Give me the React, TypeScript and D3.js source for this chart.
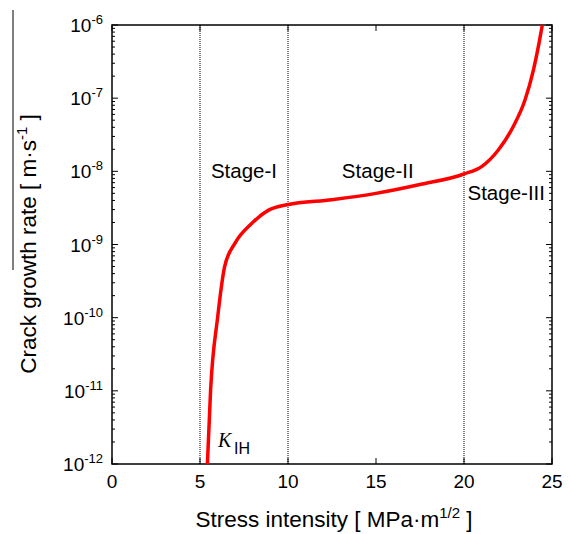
import React from 'react';
import * as d3 from 'd3';

// crack growth curve (stress intensity vs growth rate)
const stressK = [5.42, 5.6, 6.0, 6.4, 7.0, 7.95, 8.9, 9.95, 12.5, 15, 17.5, 20, 21.0, 21.95, 22.8, 23.47, 23.94, 24.26, 24.45];
const growthRate = [1e-12, 1e-11, 1e-10, 5e-10, 1.05e-9, 1.95e-9, 2.95e-9, 3.5e-9, 4.1e-9, 5.0e-9, 6.6e-9, 9.2e-9, 1.16e-8, 1.96e-8, 4.1e-8, 9.5e-8, 2.4e-7, 5.6e-7, 1e-6];

const stageBounds = [5, 10, 20];
const stageLabels = ['Stage-I', 'Stage-II', 'Stage-III'];
const stageLabelK = [7.5, 15.1, 22.4];
const stageLabelRate = [8.1e-9, 8.1e-9, 4.0e-9];

const xTicks = [0, 5, 10, 15, 20, 25];
const yExponents = [-6, -7, -8, -9, -10, -11, -12];

const font = 'Arial, "Liberation Sans", sans-serif';

export default function App() {
  const W = 570;
  const H = 534;
  const left = 112, right = 552, top = 25, bottom = 464;

  const x = d3.scaleLinear().domain([0, 25]).range([left, right]);
  const y = d3.scaleLog().domain([1e-12, 1e-6]).range([bottom, top]);

  const line = d3.line<number>()
    .x((_, i) => x(stressK[i]))
    .y((d) => y(d))
    .curve(d3.curveMonotoneX);

  // minor log ticks
  const minor: number[] = [];
  for (let e = -12; e < -6; e++) {
    for (let m = 2; m <= 9; m++) minor.push(m * Math.pow(10, e));
  }

  return (
    <svg width={W} height={H} style={{ position: 'absolute', left: 0, top: 0, background: '#fff' }}>
      {/* stray line at top left */}
      <line x1={13} x2={13} y1={10} y2={270} stroke="#000" strokeWidth={1} />

      {/* stage boundaries */}
      {stageBounds.map((k) => (
        <line key={k} x1={x(k)} x2={x(k)} y1={top} y2={bottom} stroke="#000" strokeWidth={1} strokeDasharray="1,1" />
      ))}

      {/* minor ticks */}
      {minor.map((v, i) => (
        <g key={'m' + i}>
          <line x1={left} x2={left + 3} y1={y(v)} y2={y(v)} stroke="#000" />
          <line x1={right} x2={right - 3} y1={y(v)} y2={y(v)} stroke="#000" />
        </g>
      ))}
      {/* major y ticks + labels */}
      {yExponents.map((e) => {
        const yy = y(Math.pow(10, e));
        return (
          <g key={'y' + e}>
            <line x1={left} x2={left + 6} y1={yy} y2={yy} stroke="#000" />
            <line x1={right} x2={right - 6} y1={yy} y2={yy} stroke="#000" />
            <text x={103} y={yy + 7} textAnchor="end" fontFamily={font} fontSize={19}>
              10<tspan dy={-8} fontSize={13}>{'-' + Math.abs(e)}</tspan>
            </text>
          </g>
        );
      })}
      {/* x ticks + labels */}
      {xTicks.map((t) => (
        <g key={'x' + t}>
          <line x1={x(t)} x2={x(t)} y1={bottom} y2={bottom - 6} stroke="#000" />
          <line x1={x(t)} x2={x(t)} y1={top} y2={top + 6} stroke="#000" />
          <text x={x(t)} y={488} textAnchor="middle" fontFamily={font} fontSize={19}>{t}</text>
        </g>
      ))}

      {/* frame */}
      <rect x={left} y={top} width={right - left} height={bottom - top} fill="none" stroke="#000" strokeWidth={1.5} />

      {/* curve */}
      <path d={line(growthRate) || ''} fill="none" stroke="#ff0000" strokeWidth={3.5} strokeLinejoin="round" />

      {/* stage labels */}
      {stageLabels.map((s, i) => (
        <text key={s} x={x(stageLabelK[i])} y={y(stageLabelRate[i])} textAnchor="middle" fontFamily={font} fontSize={20.5}>{s}</text>
      ))}

      {/* K_IH */}
      <text x={218} y={447} fontFamily='"Times New Roman", "Liberation Serif", serif' fontStyle="italic" fontSize={20}>K</text>
      <text x={234} y={454} fontFamily={font} fontSize={16}>IH</text>

      {/* axis titles */}
      <text x={334} y={527} textAnchor="middle" fontFamily={font} fontSize={22.5}>
        Stress intensity [ MPa·m<tspan dy={-9} fontSize={15}>1/2</tspan><tspan dy={9}> ]</tspan>
      </text>
      <text transform="translate(36,244) rotate(-90)" textAnchor="middle" fontFamily={font} fontSize={22.5}>
        Crack growth rate [ m·s<tspan dy={-9} fontSize={15}>-1</tspan><tspan dy={9}> ]</tspan>
      </text>
    </svg>
  );
}
